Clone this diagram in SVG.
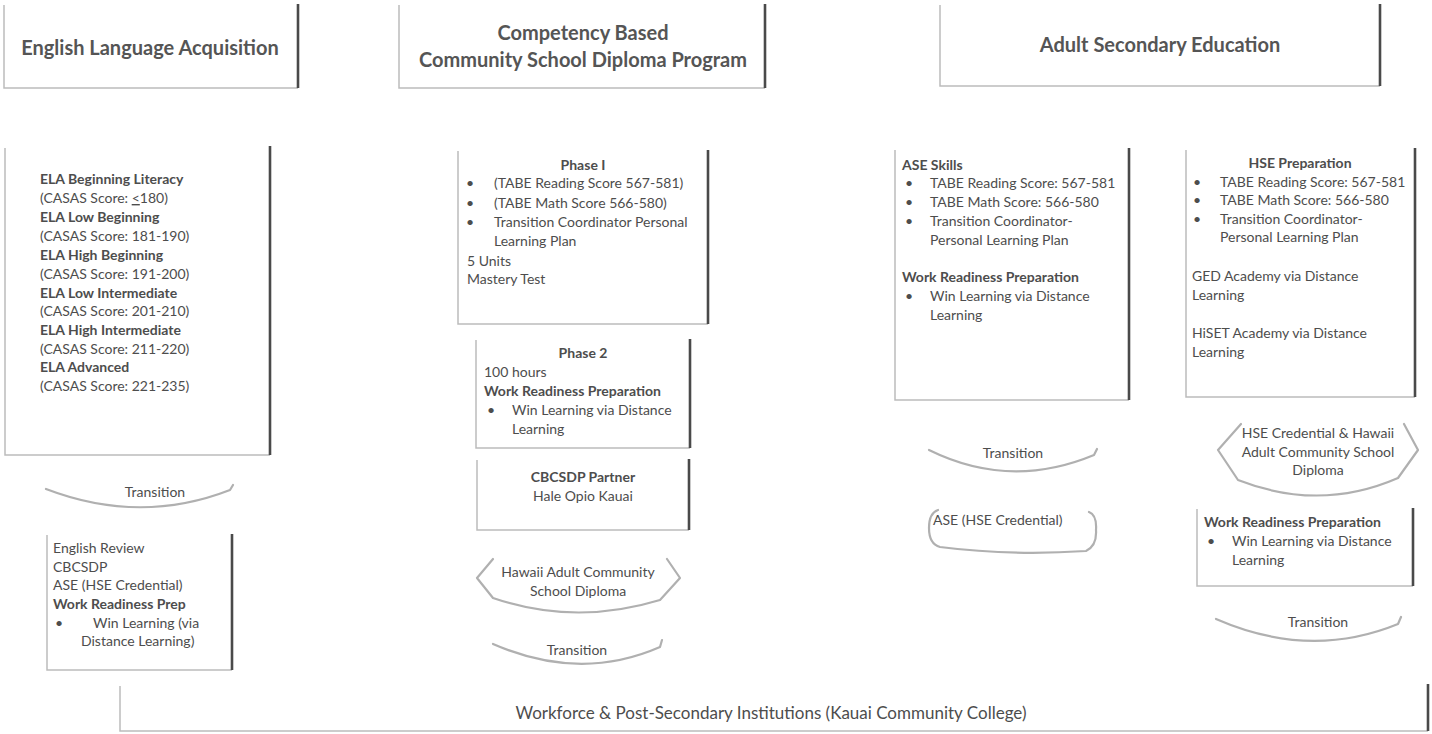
<svg xmlns="http://www.w3.org/2000/svg" width="1432" height="734" viewBox="0 0 1432 734">
  <style>
    .lb { fill: none; stroke: #bcbcbc; stroke-width: 1.5; }
    .rt { fill: none; stroke: #4a4a4a; stroke-width: 2.6; }
    .soft { fill: none; stroke: #b0b0b0; stroke-width: 2.2; stroke-linecap: round; stroke-linejoin: round; }
    .t { font-family: Lato, "Liberation Sans", sans-serif; font-size: 14px; fill: #4d4d4d; }
    .b { font-weight: bold; }
    .c { text-anchor: middle; }
    .big { font-size: 17px; }
    .h { font-family: Lato, "Liberation Sans", sans-serif; font-size: 20px; font-weight: bold; fill: #555; text-anchor: middle; }
  </style>
  <rect width="1432" height="734" fill="#ffffff"/>

  <!-- column headers -->
  <g id="hdr-ela">
    <path class="lb" d="M4,5 V88 H298"/>
    <path class="rt" d="M298,4 V88"/>
    <text class="h" x="150" y="55">English Language Acquisition</text>
  </g>
  <g id="hdr-cbcsdp">
    <path class="lb" d="M399,5 V88 H765"/>
    <path class="rt" d="M765,4 V88"/>
    <text class="h" x="583" y="40" fill="#333">Competency Based</text>
    <text class="h" x="583" y="67" fill="#333">Community School Diploma Program</text>
  </g>
  <g id="hdr-ase">
    <path class="lb" d="M940,5 V86 H1380"/>
    <path class="rt" d="M1380,4 V86"/>
    <text class="h" x="1160" y="52">Adult Secondary Education</text>
  </g>

  <!-- English Language Acquisition column -->
  <g id="ela-levels">
    <path class="lb" d="M5,148 V455 H270"/>
    <path class="rt" d="M270,146 V455"/>
    <text class="t b" x="40" y="184">ELA Beginning Literacy</text>
    <text class="t" x="40" y="203">(CASAS Score: <tspan text-decoration="underline">&lt;</tspan>180)</text>
    <text class="t b" x="40" y="222">ELA Low Beginning</text>
    <text class="t" x="40" y="241">(CASAS Score: 181-190)</text>
    <text class="t b" x="40" y="260">ELA High Beginning</text>
    <text class="t" x="40" y="279">(CASAS Score: 191-200)</text>
    <text class="t b" x="40" y="298">ELA Low Intermediate</text>
    <text class="t" x="40" y="316">(CASAS Score: 201-210)</text>
    <text class="t b" x="40" y="335">ELA High Intermediate</text>
    <text class="t" x="40" y="354">(CASAS Score: 211-220)</text>
    <text class="t b" x="40" y="372">ELA Advanced</text>
    <text class="t" x="40" y="391">(CASAS Score: 221-235)</text>
  </g>
  <g id="ela-transition">
    <path class="soft" d="M46,489 Q140,525 230,490 L233,485"/>
    <text class="t c" x="155" y="497">Transition</text>
  </g>
  <g id="ela-next">
    <path class="lb" d="M47,535 V670 H232"/>
    <path class="rt" d="M232,534 V670"/>
    <text class="t" x="53" y="553">English Review</text>
    <text class="t" x="53" y="572">CBCSDP</text>
    <text class="t" x="53" y="590">ASE (HSE Credential)</text>
    <text class="t b" x="53" y="609">Work Readiness Prep</text>
    <text class="t" x="55" y="628">•</text>
    <text class="t" x="93" y="628">Win Learning (via</text>
    <text class="t" x="81" y="646">Distance Learning)</text>
  </g>

  <!-- Competency Based Community School Diploma column -->
  <g id="phase-1">
    <path class="lb" d="M458,151 V324 H708"/>
    <path class="rt" d="M708,150 V324"/>
    <text class="t b c" x="583" y="170">Phase I</text>
    <text class="t" x="466" y="188">•</text>
    <text class="t" x="494" y="188">(TABE Reading Score 567-581)</text>
    <text class="t" x="466" y="208">•</text>
    <text class="t" x="494" y="208">(TABE Math Score 566-580)</text>
    <text class="t" x="466" y="227">•</text>
    <text class="t" x="494" y="227">Transition Coordinator Personal</text>
    <text class="t" x="494" y="246">Learning Plan</text>
    <text class="t" x="467" y="266">5 Units</text>
    <text class="t" x="467" y="284">Mastery Test</text>
  </g>
  <g id="phase-2">
    <path class="lb" d="M476,340 V448 H690"/>
    <path class="rt" d="M690,339 V448"/>
    <text class="t b c" x="583" y="358">Phase 2</text>
    <text class="t" x="484" y="377">100 hours</text>
    <text class="t b" x="484" y="396">Work Readiness Preparation</text>
    <text class="t" x="487" y="415">•</text>
    <text class="t" x="512" y="415">Win Learning via Distance</text>
    <text class="t" x="512" y="434">Learning</text>
  </g>
  <g id="cbcsdp-partner">
    <path class="lb" d="M477,460 V530 H689"/>
    <path class="rt" d="M689,459 V530"/>
    <text class="t b c" x="583" y="482">CBCSDP Partner</text>
    <text class="t c" x="583" y="501">Hale Opio Kauai</text>
  </g>
  <g id="hacsd">
    <path class="soft" d="M493,559 L477,578 L493,598 Q575,626 660,600 L680,578 L667,559"/>
    <text class="t c" x="578" y="577">Hawaii Adult Community</text>
    <text class="t c" x="578" y="596">School Diploma</text>
  </g>
  <g id="cbcsdp-transition">
    <path class="soft" d="M493,644 Q580,682 660,647 L662,640"/>
    <text class="t c" x="577" y="655">Transition</text>
  </g>

  <!-- Adult Secondary Education column -->
  <g id="ase-skills">
    <path class="lb" d="M895,150 V400 H1129"/>
    <path class="rt" d="M1129,148 V400"/>
    <text class="t b" x="902" y="170">ASE Skills</text>
    <text class="t" x="905" y="188">•</text>
    <text class="t" x="930" y="188">TABE Reading Score: 567-581</text>
    <text class="t" x="905" y="207">•</text>
    <text class="t" x="930" y="207">TABE Math Score:  566-580</text>
    <text class="t" x="905" y="226">•</text>
    <text class="t" x="930" y="226">Transition Coordinator-</text>
    <text class="t" x="930" y="245">Personal Learning Plan</text>
    <text class="t b" x="902" y="282">Work Readiness Preparation</text>
    <text class="t" x="905" y="301">•</text>
    <text class="t" x="930" y="301">Win Learning via Distance</text>
    <text class="t" x="930" y="320">Learning</text>
  </g>
  <g id="ase-transition">
    <path class="soft" d="M929,450 Q1010,490 1094,455 L1097,449"/>
    <text class="t c" x="1013" y="458">Transition</text>
  </g>
  <g id="ase-credential">
    <path class="soft" d="M938,510 Q929,513 929,528 Q929,544 940,547 Q1010,556 1086,551 Q1097,546 1096,530 Q1097,515 1089,512"/>
    <text class="t" x="933" y="525">ASE (HSE Credential)</text>
  </g>
  <g id="hse-prep">
    <path class="lb" d="M1186,150 V397 H1415"/>
    <path class="rt" d="M1415,148 V397"/>
    <text class="t b c" x="1300" y="168">HSE Preparation</text>
    <text class="t" x="1193" y="187">•</text>
    <text class="t" x="1220" y="187">TABE Reading Score: 567-581</text>
    <text class="t" x="1193" y="205">•</text>
    <text class="t" x="1220" y="205">TABE Math Score: 566-580</text>
    <text class="t" x="1193" y="224">•</text>
    <text class="t" x="1220" y="224">Transition Coordinator-</text>
    <text class="t" x="1220" y="242">Personal Learning Plan</text>
    <text class="t" x="1192" y="281">GED Academy via Distance</text>
    <text class="t" x="1192" y="300">Learning</text>
    <text class="t" x="1192" y="338">HiSET Academy via Distance</text>
    <text class="t" x="1192" y="357">Learning</text>
  </g>
  <g id="hse-credential">
    <path class="soft" d="M1241,424 L1218,450 L1238,480 Q1320,512 1398,478 L1418,450 L1404,424"/>
    <text class="t c" x="1318" y="438">HSE Credential &amp; Hawaii</text>
    <text class="t c" x="1318" y="457">Adult Community School</text>
    <text class="t c" x="1318" y="475">Diploma</text>
  </g>
  <g id="hse-work-readiness">
    <path class="lb" d="M1197,509 V586 H1413"/>
    <path class="rt" d="M1413,508 V586"/>
    <text class="t b" x="1204" y="527">Work Readiness Preparation</text>
    <text class="t" x="1207" y="546">•</text>
    <text class="t" x="1232" y="546">Win Learning via Distance</text>
    <text class="t" x="1232" y="565">Learning</text>
  </g>
  <g id="hse-transition">
    <path class="soft" d="M1216,619 Q1310,660 1398,624 L1401,617"/>
    <text class="t c" x="1318" y="627">Transition</text>
  </g>

  <!-- shared destination -->
  <g id="workforce">
    <path class="lb" d="M120,686 V731 H1428"/>
    <path class="rt" d="M1428,684 V731"/>
    <text class="t c big" x="771" y="719">Workforce &amp; Post-Secondary Institutions (Kauai Community College)</text>
  </g>

  <g id="connectors"/>
</svg>
